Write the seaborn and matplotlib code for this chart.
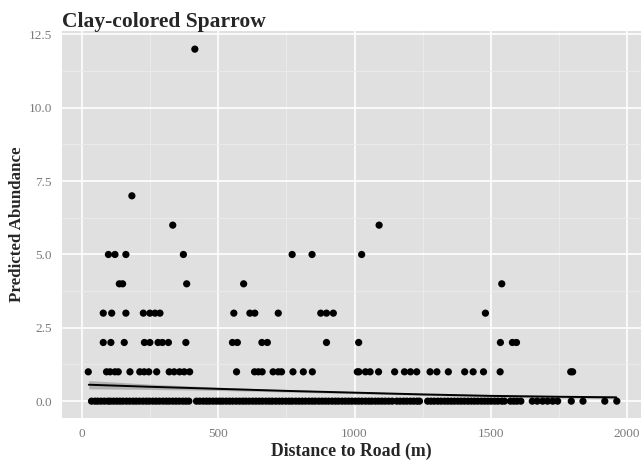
import numpy as np
import pandas as pd
import matplotlib
matplotlib.use("Agg")
import matplotlib.pyplot as plt
from matplotlib.ticker import MultipleLocator
import seaborn as sns

# distances (m), grouped by predicted abundance
dist_0 = [35, 48, 58, 70, 82, 95, 104, 116, 128, 139, 150, 163, 175, 188, 199, 211, 224,
          236, 247, 260, 272, 284, 297, 309, 320, 333, 345, 357, 370, 381, 392,
          420, 432, 445, 457, 468, 481, 493, 505, 516, 529, 541, 553, 566, 578, 590,
          601, 613, 626, 638, 650, 662, 675, 687, 698, 711, 723, 735, 748, 760, 771,
          784, 796, 808, 820, 833, 845, 856, 869, 881, 893, 905, 918, 930, 941, 954,
          966, 978, 990, 1003, 1015, 1027, 1040, 1052, 1063, 1076, 1088, 1100, 1112,
          1125, 1138, 1155, 1167, 1180, 1192, 1205, 1217, 1229, 1238,
          1268, 1280, 1292, 1305, 1317, 1330, 1342, 1354, 1366, 1379, 1391, 1403,
          1416, 1428, 1440, 1452, 1465, 1477, 1489, 1501, 1514, 1526, 1540, 1550,
          1572, 1584, 1596, 1610, 1652, 1670, 1690, 1708, 1727, 1745, 1795, 1838,
          1918, 1962]
dist_1 = [23, 90, 103, 121, 133, 176, 212, 228, 245, 274, 320, 338, 358, 375, 395, 567,
          633, 647, 661, 701, 720, 732, 774, 812, 845, 1010, 1016, 1040, 1057, 1088,
          1147, 1183, 1205, 1228, 1277, 1302, 1344, 1404, 1435, 1473, 1534, 1793, 1800]
dist_2 = [78, 106, 155, 229, 249, 279, 295, 317, 381, 552, 570, 660, 680, 897, 1015,
          1535, 1579, 1594]
dist_3 = [78, 109, 161, 225, 249, 268, 286, 557, 616, 634, 720, 876, 897, 922, 1480]
dist_4 = [137, 149, 384, 593, 1540]
dist_5 = [97, 121, 161, 372, 771, 844, 1026]
dist_6 = [333, 1090]
dist_7 = [183]
dist_12 = [414]

# fitted trend with its confidence band
fit_x = [25, 250, 500, 750, 1000, 1250, 1500, 1750, 1960]
fit_y = [0.56, 0.49, 0.42, 0.35, 0.29, 0.23, 0.18, 0.15, 0.13]
fit_lo = [0.42, 0.40, 0.365, 0.31, 0.255, 0.20, 0.145, 0.11, 0.085]
fit_hi = [0.70, 0.58, 0.475, 0.39, 0.325, 0.26, 0.215, 0.19, 0.175]

groups = {0: dist_0, 1: dist_1, 2: dist_2, 3: dist_3, 4: dist_4, 5: dist_5,
          6: dist_6, 7: dist_7, 12: dist_12}
df = pd.DataFrame([(d, k) for k, v in groups.items() for d in v],
                  columns=["distance", "abundance"])

sns.set_style("darkgrid")
plt.rcParams["font.family"] = ["Liberation Serif", "DejaVu Serif"]

fig = plt.figure(figsize=(6.44, 4.69), dpi=100)
ax = fig.add_axes([0.096, 0.109, 0.899, 0.825])
ax.set_facecolor("#E0E0E0")

ax.fill_between(fit_x, fit_lo, fit_hi, color="#8C8C8C", alpha=0.55, lw=0, zorder=2)
sns.lineplot(x=fit_x, y=fit_y, color="black", lw=1.4, ax=ax, zorder=3)
sns.scatterplot(data=df, x="distance", y="abundance", color="black", s=27,
                edgecolor="none", ax=ax, zorder=4)

ax.set_xlim(-74, 2050)
ax.set_ylim(-0.57, 12.62)
ax.xaxis.set_major_locator(MultipleLocator(500))
ax.xaxis.set_minor_locator(MultipleLocator(250))
ax.yaxis.set_major_locator(MultipleLocator(2.5))
ax.yaxis.set_minor_locator(MultipleLocator(1.25))
ax.set_yticklabels([f"{v:.1f}" for v in ax.get_yticks()])
ax.grid(which="major", color="white", lw=1.2)
ax.grid(which="minor", color="#EBEBEB", lw=0.6)
ax.set_axisbelow(True)
for s in ax.spines.values():
    s.set_visible(False)
ax.tick_params(axis="both", which="major", length=4, width=0.8, color="#808080",
               labelcolor="#7A7A7A", labelsize=9.5, pad=3)
ax.tick_params(which="minor", length=0)

ax.set_xlabel("Distance to Road (m)", fontsize=12.8, fontweight="bold", labelpad=2)
ax.set_ylabel("Predicted Abundance", fontsize=12.2, fontweight="bold", labelpad=3)
ax.set_title("Clay-colored Sparrow", fontsize=15.5, fontweight="bold", loc="left", pad=3)

fig.savefig("out.png", dpi=100)
